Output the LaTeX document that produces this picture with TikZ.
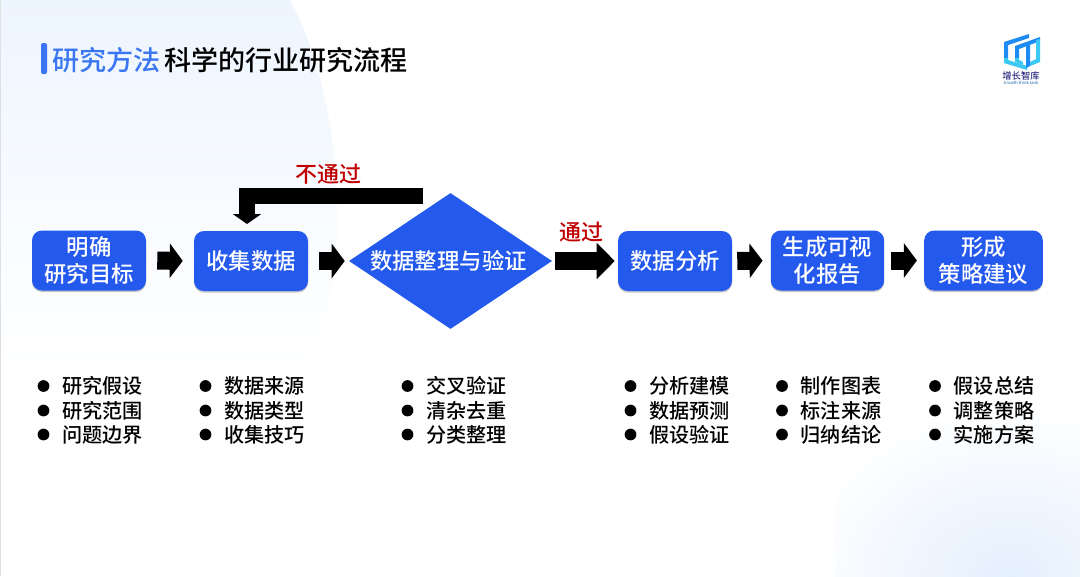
\documentclass[tikz,border=0pt]{standalone}
\usepackage{fontspec}
\setmainfont{Noto Sans CJK SC Medium}
\newfontfamily\plaincjk{Noto Sans CJK SC}
\usetikzlibrary{arrows.meta,shapes.geometric,shadows,calc}
\definecolor{boxblue}{HTML}{2459EE}
\definecolor{titleblue}{HTML}{3B76F2}
\definecolor{passred}{HTML}{C00000}
\definecolor{bgblue}{HTML}{EDF5FE}
\definecolor{cornerblue}{HTML}{E4EFFD}
\definecolor{logoblue}{HTML}{1C8CF2}
\definecolor{logocyan}{HTML}{3CC8F4}
\tikzset{
  px/.style={x=0.75pt,y=-0.75pt},
  stepbox/.style={draw=none,fill=boxblue,rounded corners=7.5pt,minimum height=45pt,text=white,font=\fontsize{16.8}{19.6}\selectfont,align=center,inner sep=0pt,drop shadow={shadow xshift=0pt,shadow yshift=-1.2pt,fill=black,opacity=.22}},
  decbox/.style={diamond,aspect=1.49,fill=boxblue,text=white,font=\fontsize{16.8}{19.6}\selectfont,inner sep=0pt,minimum width=152.25pt,minimum height=102pt},
  blockarrow/.style={line width=13.5pt,-{Triangle[length=9.75pt,width=25.5pt]}},
  passarrow/.style={line width=13.5pt,-{Triangle[length=13.5pt,width=26.5pt]},shorten <=2.25pt,shorten >=2.25pt},
  backarrow/.style={line width=12pt,-{Triangle[length=7.5pt,width=21pt]},shorten >=5.25pt},
  verdict/.style={text=passred,font=\fontsize{16.5}{18}\selectfont,inner sep=0pt},
  itemtext/.style={anchor=west,font=\fontsize{15.1}{18}\selectfont,inner sep=0pt},
  dotmark/.style={circle,fill=black,minimum size=8.8pt,inner sep=0pt},
}
\newcommand{\itemrow}[3]{%
  \node[dotmark] (dot#3) at (#1) {};
  \node[itemtext] (txt#3) at ($(dot#3)+(18.5,0)$) {#2};
}
\begin{document}
\begin{tikzpicture}[px]
\useasboundingbox (0,0) rectangle (1080,576);
\fill[white] (0,0) rectangle (1080,576);
% background washes
\shade[top color=bgblue,bottom color=white,middle color=bgblue!45!white]
  (0,0) -- (290,0) .. controls (322,60) and (340,150) .. (337,230) .. controls (335,290) and (325,330) .. (300,370) -- (0,370) -- cycle;
\begin{scope}
\clip (835,400) rectangle (1080,576);
\shade[inner color=cornerblue,outer color=white] (1010,576) ellipse (220 and 170);
\end{scope}
\draw[black!12,line width=.5pt] (0.3,0) -- (0.3,576);
% title
\fill[titleblue,rounded corners=1.5pt] (41,43) rectangle (47,74);
\node[anchor=west,inner sep=0pt,text=titleblue,font=\fontsize{20.3}{24}\selectfont] (ttla) at (52,60) {研究方法};
\node[anchor=west,inner sep=0pt,font=\fontsize{20.3}{24}\selectfont] (ttlb) at (164,60) {科学的行业研究流程};
% logo
\begin{scope}[line join=miter]
\fill[logoblue] (1004,42) -- (1029,34) -- (1029,38) -- (1008,45) -- (1008,58) -- (1004,58) -- cycle;
\fill[logocyan] (1004,58) -- (1008,58) -- (1008,60) -- (1027,66) -- (1027,70) -- (1004,63) -- cycle;
\fill[logoblue] (1015,46) -- (1040,37) -- (1040,41) -- (1019,49) -- (1019,58) -- (1015,58) -- cycle;
\fill[logocyan] (1036,40) -- (1040,39) -- (1040,62) -- (1030,66) -- (1030,62) -- (1036,59) -- cycle;
\fill[logocyan] (1015,58) -- (1019,58) -- (1019,60) -- (1023,62) -- (1023,65) -- (1015,62) -- cycle;
\fill[logoblue] (1026,44) -- (1030,42) -- (1030,66) -- (1026,68) -- cycle;
\end{scope}
\node[inner sep=0pt,font=\plaincjk\fontsize{7}{8}\selectfont,text=black!60!blue] (logoa) at (1021,75.5) {增长智库};
\node[inner sep=0pt,font=\plaincjk\fontsize{3.1}{3.5}\selectfont,text=logoblue!70!black] (logob) at (1021,82.5) {Growth think tank};
% flow
\node[stepbox,minimum width=85.5pt] (a) at (89,260.5) {明确\\研究目标};
\node[stepbox,minimum width=85.5pt] (b) at (251,261) {收集数据};
\node[decbox] (c) at (450.5,261) {\hspace*{-3pt}数据整理与验证};
\node[stepbox,minimum width=85.5pt] (d) at (675,261) {数据分析};
\node[stepbox,minimum width=85pt] (e) at (827.5,260.5) {生成可视\\化报告};
\node[stepbox,minimum width=89pt] (f) at (983.5,260.5) {形成\\策略建议};
\draw[blockarrow,shorten <=8.25pt,shorten >=8.25pt] (a.east) -- (b.west);
\draw[blockarrow,shorten <=8.25pt,shorten >=3pt] (b.east) -- (c.west);
\draw[passarrow] (c.east) -- (d.west);
\draw[blockarrow,shorten <=3.75pt,shorten >=6pt] (d.east) -- (e.west);
\draw[blockarrow,shorten <=5.25pt,shorten >=5.25pt] (e.east) -- (f.west);
\coordinate (backstart) at (423,196);
\coordinate (backin) at (247,231);
\draw[backarrow] (backstart) -- (247,196) -- (backin);
\node[verdict] (no) at (328,174) {不通过};
\node[verdict] (yes) at (581.5,232) {通过};
% lists
\itemrow{43.5,386}{研究假设}{a1}
\itemrow{43.5,410.5}{研究范围}{a2}
\itemrow{43.5,434.5}{问题边界}{a3}
\itemrow{205.5,386}{数据来源}{b1}
\itemrow{205.5,410.5}{数据类型}{b2}
\itemrow{205.5,434.5}{收集技巧}{b3}
\itemrow{407.5,386}{交叉验证}{c1}
\itemrow{407.5,410.5}{清杂去重}{c2}
\itemrow{407.5,434.5}{分类整理}{c3}
\itemrow{630.5,386}{分析建模}{d1}
\itemrow{630.5,410.5}{数据预测}{d2}
\itemrow{630.5,434.5}{假设验证}{d3}
\itemrow{782,386}{制作图表}{e1}
\itemrow{782,410.5}{标注来源}{e2}
\itemrow{782,434.5}{归纳结论}{e3}
\itemrow{935,386}{假设总结}{f1}
\itemrow{935,410.5}{调整策略}{f2}
\itemrow{935,434.5}{实施方案}{f3}
\end{tikzpicture}
\end{document}
